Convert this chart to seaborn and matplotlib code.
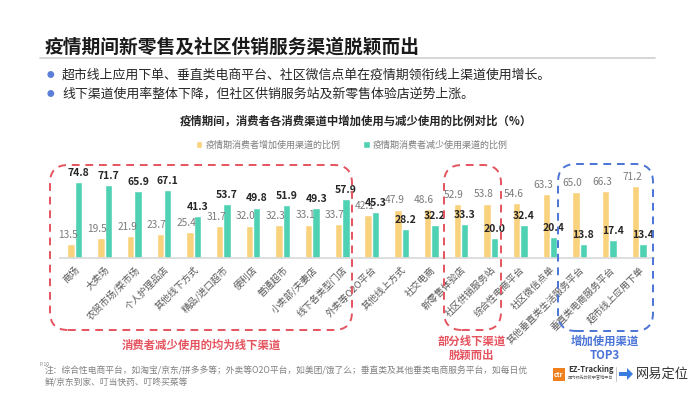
import matplotlib
matplotlib.use("Agg")
import matplotlib.pyplot as plt
import pandas as pd
import seaborn as sns
from matplotlib.patches import FancyBboxPatch, Rectangle, FancyArrow
from matplotlib.lines import Line2D

# ---------------------------------------------------------------------------
# 数据
# ---------------------------------------------------------------------------
categories = [
    "商场", "大卖场", "农贸市场/菜市场", "个人护理品店", "其他线下方式",
    "精品/进口超市", "便利店", "普通超市", "小卖部/夫妻店", "线下各类型门店",
    "外卖等O2O平台", "其他线上方式", "社交电商", "新零售体验店", "社区供销服务站",
    "综合性电商平台", "社区微信点单", "其他垂直类生活服务平台", "垂直类电商服务平台",
    "超市线上应用下单",
]
increase = [13.5, 19.5, 21.9, 23.7, 25.4, 31.7, 32.0, 32.3, 33.1, 33.7,
            42.1, 47.9, 48.6, 52.9, 53.8, 54.6, 63.3, 65.0, 66.3, 71.2]
decrease = [74.8, 71.7, 65.9, 67.1, 41.3, 53.7, 49.8, 51.9, 49.3, 57.9,
            45.3, 28.2, 32.2, 33.3, 20.0, 32.4, 20.4, 13.8, 17.4, 13.4]
series_names = ["疫情期消费者增加使用渠道的比例", "疫情期消费者减少使用渠道的比例"]

YELLOW = "#F9D27D"
GREEN = "#4FD1B3"
RED = "#E5535F"
BLUE = "#4A74D6"
GREY = "#808080"

W, H = 700, 394

sns.set_theme(style="white")
plt.rcParams["font.family"] = ["Noto Sans CJK SC", "DejaVu Sans"]


def px_box(x0, y0, x1, y1):
    """像素坐标(左上原点) -> 英寸坐标(左下原点)"""
    return x0 / 100, (H - y1) / 100, (x1 - x0) / 100, (y1 - y0) / 100


df = pd.DataFrame({
    "渠道": categories * 2,
    "系列": [series_names[0]] * len(categories) + [series_names[1]] * len(categories),
    "比例": increase + decrease,
})

fig = plt.figure(figsize=(W / 100, H / 100), dpi=100)
fig.patch.set_facecolor("white")

# ---------------------------------------------------------------------------
# 页眉
# ---------------------------------------------------------------------------
fig.text(45 / W, 1 - 47 / H, "疫情期间新零售及社区供销服务渠道脱颖而出",
         fontsize=13.5, fontweight="bold", color="#1a1a1a", va="center")
fig.add_artist(Line2D([40 / W, 655 / W], [1 - 58 / H, 1 - 58 / H],
                      transform=fig.transFigure, color="#CFCFCF", lw=1.2))
bullets = [
    "超市线上应用下单、垂直类电商平台、社区微信点单在疫情期领衔线上渠道使用增长。",
    "线下渠道使用率整体下降，但社区供销服务站及新零售体验店逆势上涨。",
]
for i, txt in enumerate(bullets):
    y = 1 - (75 + 19 * i) / H
    fig.text(50 / W, y, "●", fontsize=5.5, color="#5B7FD8", va="center", ha="center")
    fig.text(62 / W, y, txt, fontsize=9.3, color="#262626", va="center")

fig.text(356 / W, 1 - 121 / H, "疫情期间，消费者各消费渠道中增加使用与减少使用的比例对比（%）",
         fontsize=8.2, fontweight="bold", color="#262626", ha="center", va="center")

# ---------------------------------------------------------------------------
# 主图
# ---------------------------------------------------------------------------
ax = fig.add_axes([60 / W, 1 - 258 / H, 594 / W, 86 / H])
sns.barplot(data=df, x="渠道", y="比例", hue="系列", palette=[YELLOW, GREEN],
            width=0.5, saturation=1, ax=ax, legend=True)

inc_labels = ax.bar_label(ax.containers[0], fmt="%.1f", padding=3, fontsize=7.3,
                          color="#7A7A7A")
for t in inc_labels:
    t.xyann = (-2.5, 3)  # 参考图中增加比例的数值略偏左
ax.bar_label(ax.containers[1], fmt="%.1f", padding=3, fontsize=7.5,
             fontweight="bold", color="#262626")

ax.set_ylim(0, 85)
ax.set_xlim(-0.5, len(categories) - 0.5)
ax.set_xlabel("")
ax.set_ylabel("")
ax.set_yticks([])
for side in ["top", "left", "right"]:
    ax.spines[side].set_visible(False)
ax.spines["bottom"].set_color("#D9D9D9")
ax.tick_params(axis="x", length=0, pad=5, labelsize=6.8, labelcolor="#595959")
for lab in ax.get_xticklabels():
    lab.set_rotation(45)
    lab.set_ha("right")
    lab.set_rotation_mode("anchor")

sns.move_legend(ax, "center", bbox_to_anchor=(352 / W, 1 - 145 / H),
                bbox_transform=fig.transFigure, ncol=2, title=None, frameon=False,
                fontsize=6.5, handlelength=0.7, handleheight=0.7, handletextpad=0.4,
                columnspacing=2.5, labelcolor="#7F7F7F")

# ---------------------------------------------------------------------------
# 虚线框与注释
# ---------------------------------------------------------------------------
boxes = [
    ((50, 165, 352, 330), RED),
    ((444, 165, 501, 330), RED),
    ((558, 164, 653, 331), BLUE),
]
for (x0, y0, x1, y1), col in boxes:
    bx, by, bw, bh = px_box(x0, y0, x1, y1)
    fig.add_artist(FancyBboxPatch((bx, by), bw, bh,
                                  boxstyle="round,pad=0,rounding_size=0.18",
                                  transform=fig.dpi_scale_trans, fill=False,
                                  ec=col, lw=1.4, ls=(0, (4, 3))))

fig.text(201 / W, 1 - 345 / H, "消费者减少使用的均为线下渠道", fontsize=8.2,
         fontweight="bold", color=RED, ha="center", va="center")
fig.text(472 / W, 1 - 348 / H, "部分线下渠道\n脱颖而出", fontsize=8.2, fontweight="bold",
         color=RED, ha="center", va="center", linespacing=1.15)
fig.text(605 / W, 1 - 348 / H, "增加使用渠道\nTOP3", fontsize=8.2, fontweight="bold",
         color=BLUE, ha="center", va="center", linespacing=1.15)

# ---------------------------------------------------------------------------
# 脚注与标识
# ---------------------------------------------------------------------------
fig.text(40 / W, 1 - 364 / H, "P.10", fontsize=3.5, color=GREY, va="center")
fig.text(45 / W, 1 - 377 / H,
         "注：综合性电商平台，如淘宝/京东/拼多多等；外卖等O2O平台，如美团/饿了么；垂直类及其他垂类电商服务平台，如每日优\n"
         "鲜/京东到家、叮当快药、叮咚买菜等",
         fontsize=6.3, color=GREY, va="center", linespacing=1.35)

bx, by, bw, bh = px_box(553, 368, 565, 381)
fig.add_artist(Rectangle((bx, by), bw, bh, transform=fig.dpi_scale_trans,
                         fc="#F07F1E", ec="none"))
fig.text(559 / W, 1 - 374.5 / H, "ctr", fontsize=5, color="white", fontweight="bold",
         ha="center", va="center")
fig.text(568 / W, 1 - 369 / H, "EZ-Tracking", fontsize=5.5, fontweight="bold",
         color="#333333", va="center")
fig.text(568 / W, 1 - 377 / H, "国内领先的数字营销平台", fontsize=3, color="#666666",
         va="center")
fig.add_artist(Line2D([616 / W, 616 / W], [1 - 367 / H, 1 - 381 / H],
                      transform=fig.transFigure, color="#BBBBBB", lw=0.6))
ax_x, ax_y, _, _ = px_box(619, 374, 619, 374)
fig.add_artist(FancyArrow(ax_x, ax_y, 0.08, 0, width=0.04, head_width=0.12,
                          head_length=0.06, transform=fig.dpi_scale_trans,
                          fc="#3A7BE0", ec="none"))
fig.text(662 / W, 1 - 374 / H, "网易定位", fontsize=9.5, color="#333333",
         ha="center", va="center")

fig.savefig("out.png", dpi=100)
